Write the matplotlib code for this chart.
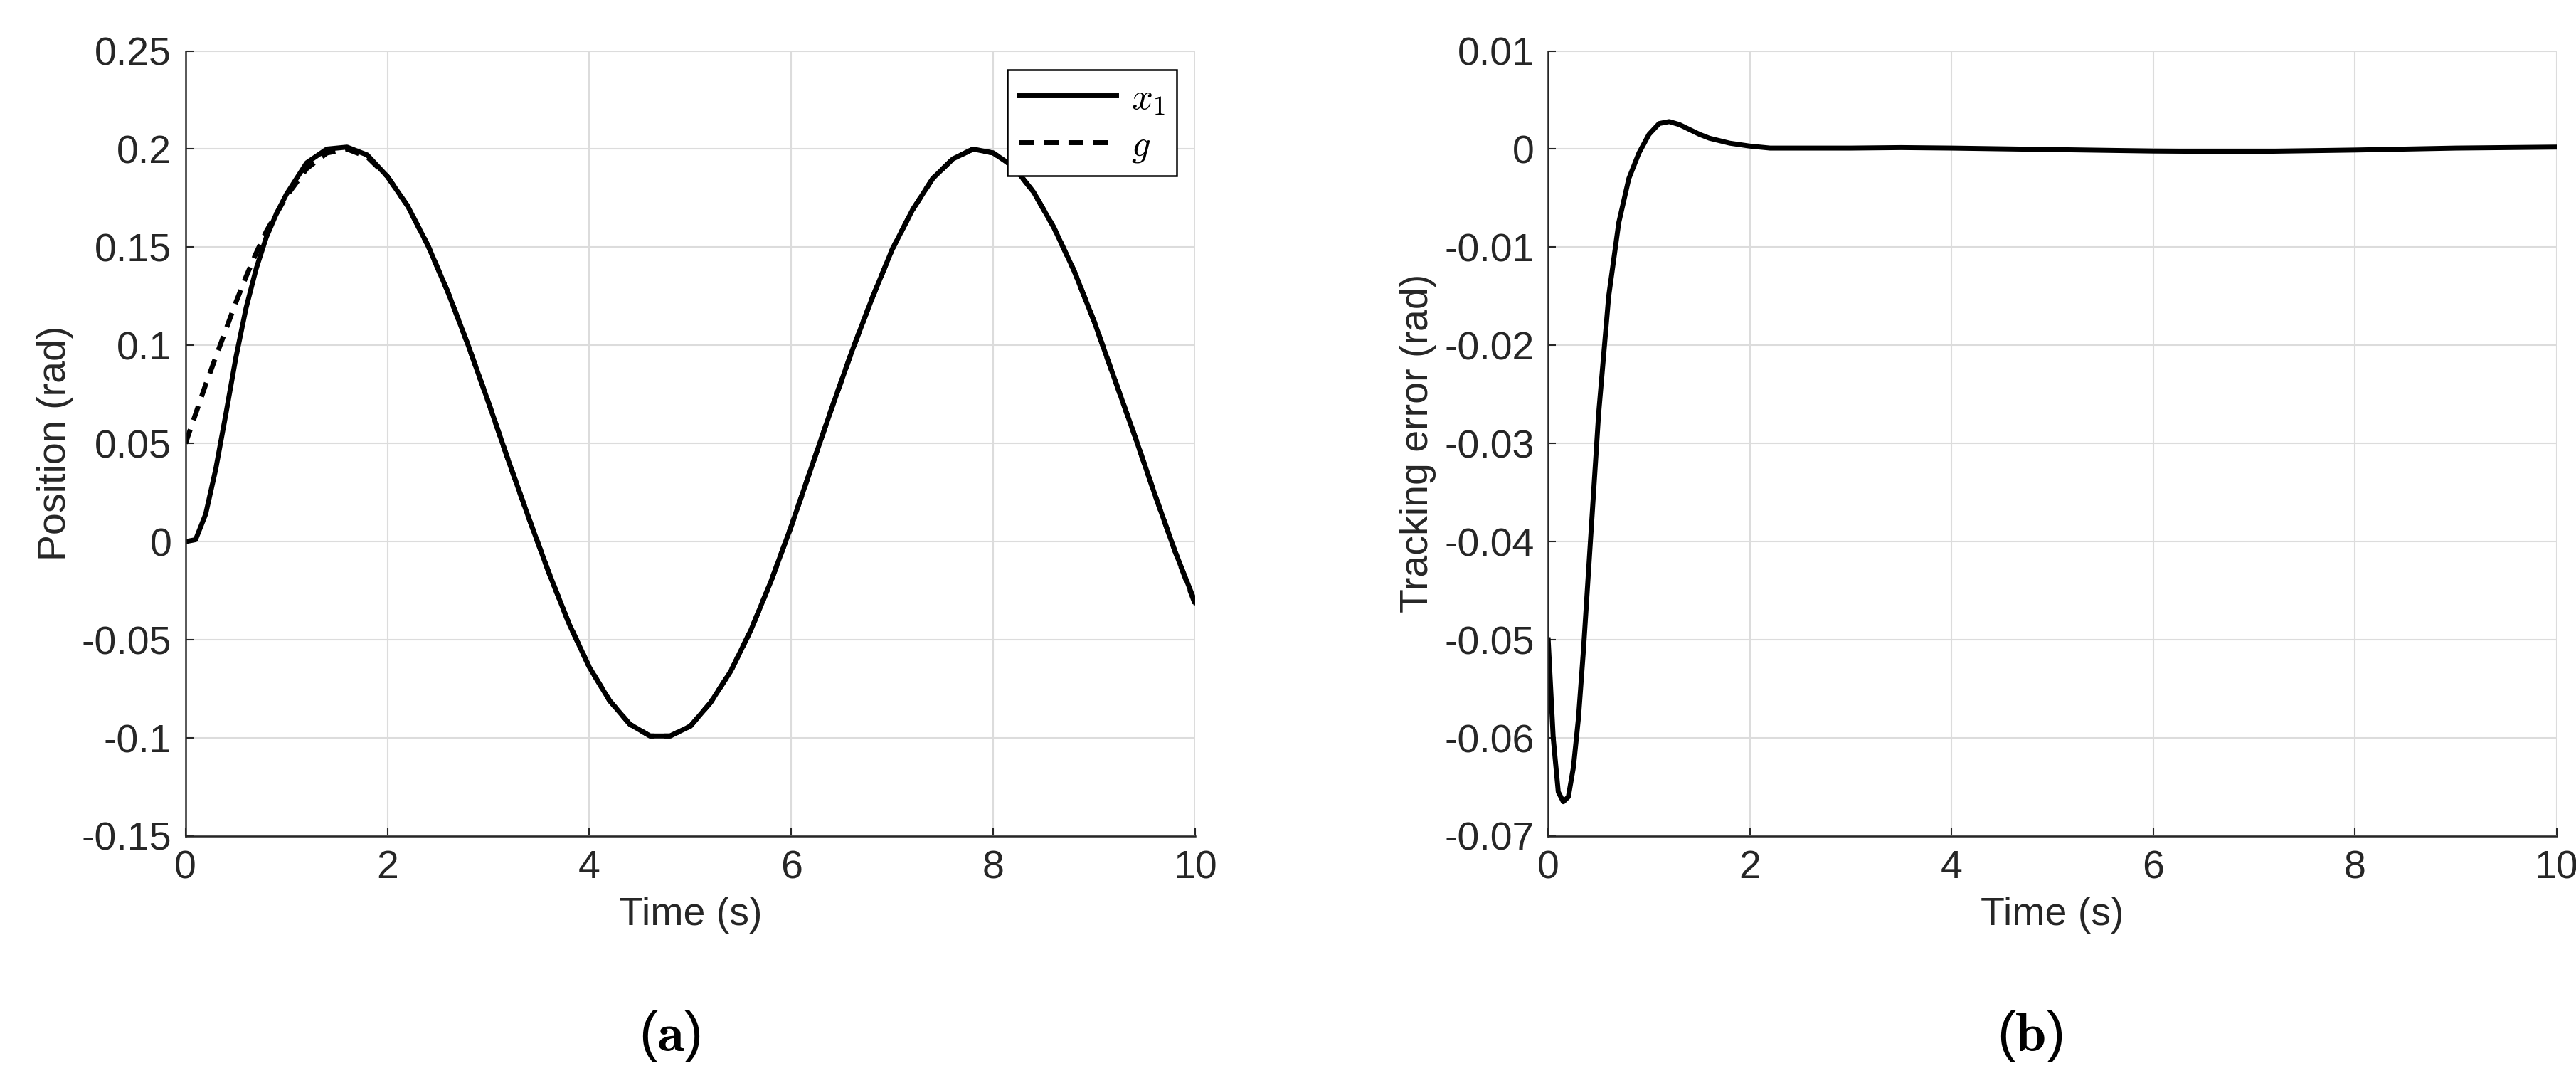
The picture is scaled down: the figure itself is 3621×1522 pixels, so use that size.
import matplotlib
matplotlib.use("Agg")
import matplotlib.pyplot as plt

plt.rcParams['font.family'] = ['Liberation Sans', 'DejaVu Sans']
plt.rcParams['mathtext.fontset'] = 'cm'

# Position plot data
t_pos = [0, 0.1, 0.2, 0.3, 0.4, 0.5, 0.6, 0.7, 0.8, 0.9, 1.0, 1.2, 1.4, 1.6, 1.8, 2.0, 2.2, 2.4, 2.6, 2.8,
         3.0, 3.2, 3.4, 3.6, 3.8, 4.0, 4.2, 4.4, 4.6, 4.8, 5.0, 5.2, 5.4, 5.6, 5.8, 6.0, 6.2, 6.4, 6.6, 6.8,
         7.0, 7.2, 7.4, 7.6, 7.8, 8.0, 8.2, 8.4, 8.6, 8.8, 9.0, 9.2, 9.4, 9.6, 9.8, 10.0]
g_ref = [0.050, 0.065, 0.080, 0.094, 0.108, 0.122, 0.135, 0.147, 0.158, 0.167, 0.176, 0.190, 0.198, 0.200,
         0.196, 0.186, 0.171, 0.151, 0.127, 0.100, 0.071, 0.041, 0.012, -0.016, -0.042, -0.064, -0.081,
         -0.093, -0.099, -0.099, -0.094, -0.082, -0.066, -0.045, -0.020, 0.008, 0.038, 0.068, 0.097, 0.124,
         0.149, 0.169, 0.185, 0.195, 0.200, 0.198, 0.191, 0.178, 0.160, 0.138, 0.112, 0.083, 0.054, 0.024,
         -0.005, -0.032]
x1 = [0.000, 0.001, 0.014, 0.037, 0.065, 0.094, 0.119, 0.139, 0.155, 0.167, 0.177, 0.193, 0.200, 0.201,
      0.197, 0.186, 0.171, 0.151, 0.127, 0.100, 0.071, 0.041, 0.012, -0.016, -0.042, -0.064, -0.081,
      -0.093, -0.099, -0.099, -0.094, -0.082, -0.066, -0.045, -0.020, 0.008, 0.038, 0.068, 0.097, 0.124,
      0.149, 0.169, 0.185, 0.195, 0.200, 0.198, 0.191, 0.178, 0.160, 0.138, 0.112, 0.083, 0.054, 0.024,
      -0.005, -0.031]

# Tracking error data
t_err = [0, 0.05, 0.1, 0.15, 0.2, 0.25, 0.3, 0.35, 0.4, 0.45, 0.5, 0.6, 0.7, 0.8, 0.9, 1.0, 1.1, 1.2,
         1.3, 1.4, 1.5, 1.6, 1.8, 2.0, 2.2, 2.5, 3.0, 3.5, 4.0, 5.0, 6.0, 6.7, 7.0, 8.0, 9.0, 10.0]
err = [-0.050, -0.060, -0.0655, -0.0665, -0.066, -0.063, -0.058, -0.051, -0.043, -0.035, -0.027,
       -0.015, -0.0075, -0.003, -0.0004, 0.0015, 0.0026, 0.0028, 0.0025, 0.0020, 0.0015, 0.0011, 0.0006,
       0.0003, 0.0001, 0.0001, 0.0001, 0.00015, 0.0001, -0.00005, -0.0002, -0.00025, -0.00025, -0.0001,
       0.0001, 0.0002]

fig = plt.figure(figsize=(36.21, 15.22), dpi=100)
ax1 = fig.add_axes([0.072, 0.228, 0.392, 0.725])
ax2 = fig.add_axes([0.601, 0.228, 0.3915, 0.725])

fs = 40
for ax in (ax1, ax2):
    ax.grid(True, color='#dcdcdc', linewidth=1.5)
    ax.set_axisbelow(True)
    for s in ['top', 'right']:
        ax.spines[s].set_visible(False)
    for s in ['left', 'bottom']:
        ax.spines[s].set_linewidth(1.8)
        ax.spines[s].set_color('#262626')
    ax.tick_params(labelsize=fs, colors='#262626', length=8, width=1.5, direction='in', pad=14)
    ax.set_xlim(0, 10)
    ax.set_xticks([0, 2, 4, 6, 8, 10])
    ax.set_xlabel('Time (s)', fontsize=fs, color='#262626', labelpad=10)

ax1.plot(t_pos, g_ref, '--', color='black', linewidth=5, label='$g$', dashes=(3, 2))
ax1.plot(t_pos, x1, '-', color='black', linewidth=5, label='$x_1$')
ax1.set_ylim(-0.15, 0.25)
ax1.set_yticks([-0.15, -0.1, -0.05, 0, 0.05, 0.1, 0.15, 0.2, 0.25])
ax1.set_yticklabels(['-0.15', '-0.1', '-0.05', '0', '0.05', '0.1', '0.15', '0.2', '0.25'])
ax1.set_ylabel('Position (rad)', fontsize=fs, color='#262626', labelpad=8)
h, l = ax1.get_legend_handles_labels()
leg = ax1.legend(h[::-1], l[::-1], loc='upper right', fontsize=38, fancybox=False, framealpha=1,
                 edgecolor='black', handlelength=2.6, borderaxespad=0.5, labelspacing=0.3,
                 borderpad=0.3, handletextpad=0.4)
leg.get_frame().set_linewidth(1.8)

ax2.plot(t_err, err, '-', color='black', linewidth=5)
ax2.set_ylim(-0.07, 0.01)
ax2.set_yticks([-0.07, -0.06, -0.05, -0.04, -0.03, -0.02, -0.01, 0, 0.01])
ax2.set_yticklabels(['-0.07', '-0.06', '-0.05', '-0.04', '-0.03', '-0.02', '-0.01', '0', '0.01'])
ax2.set_ylabel('Tracking error (rad)', fontsize=fs, color='#262626', labelpad=8)

fig.text(0.26, 0.043, r'($\mathbf{a}$)', fontsize=56, ha='center', va='center')
fig.text(0.788, 0.043, r'($\mathbf{b}$)', fontsize=56, ha='center', va='center')

fig.savefig('out.png', dpi=100)
